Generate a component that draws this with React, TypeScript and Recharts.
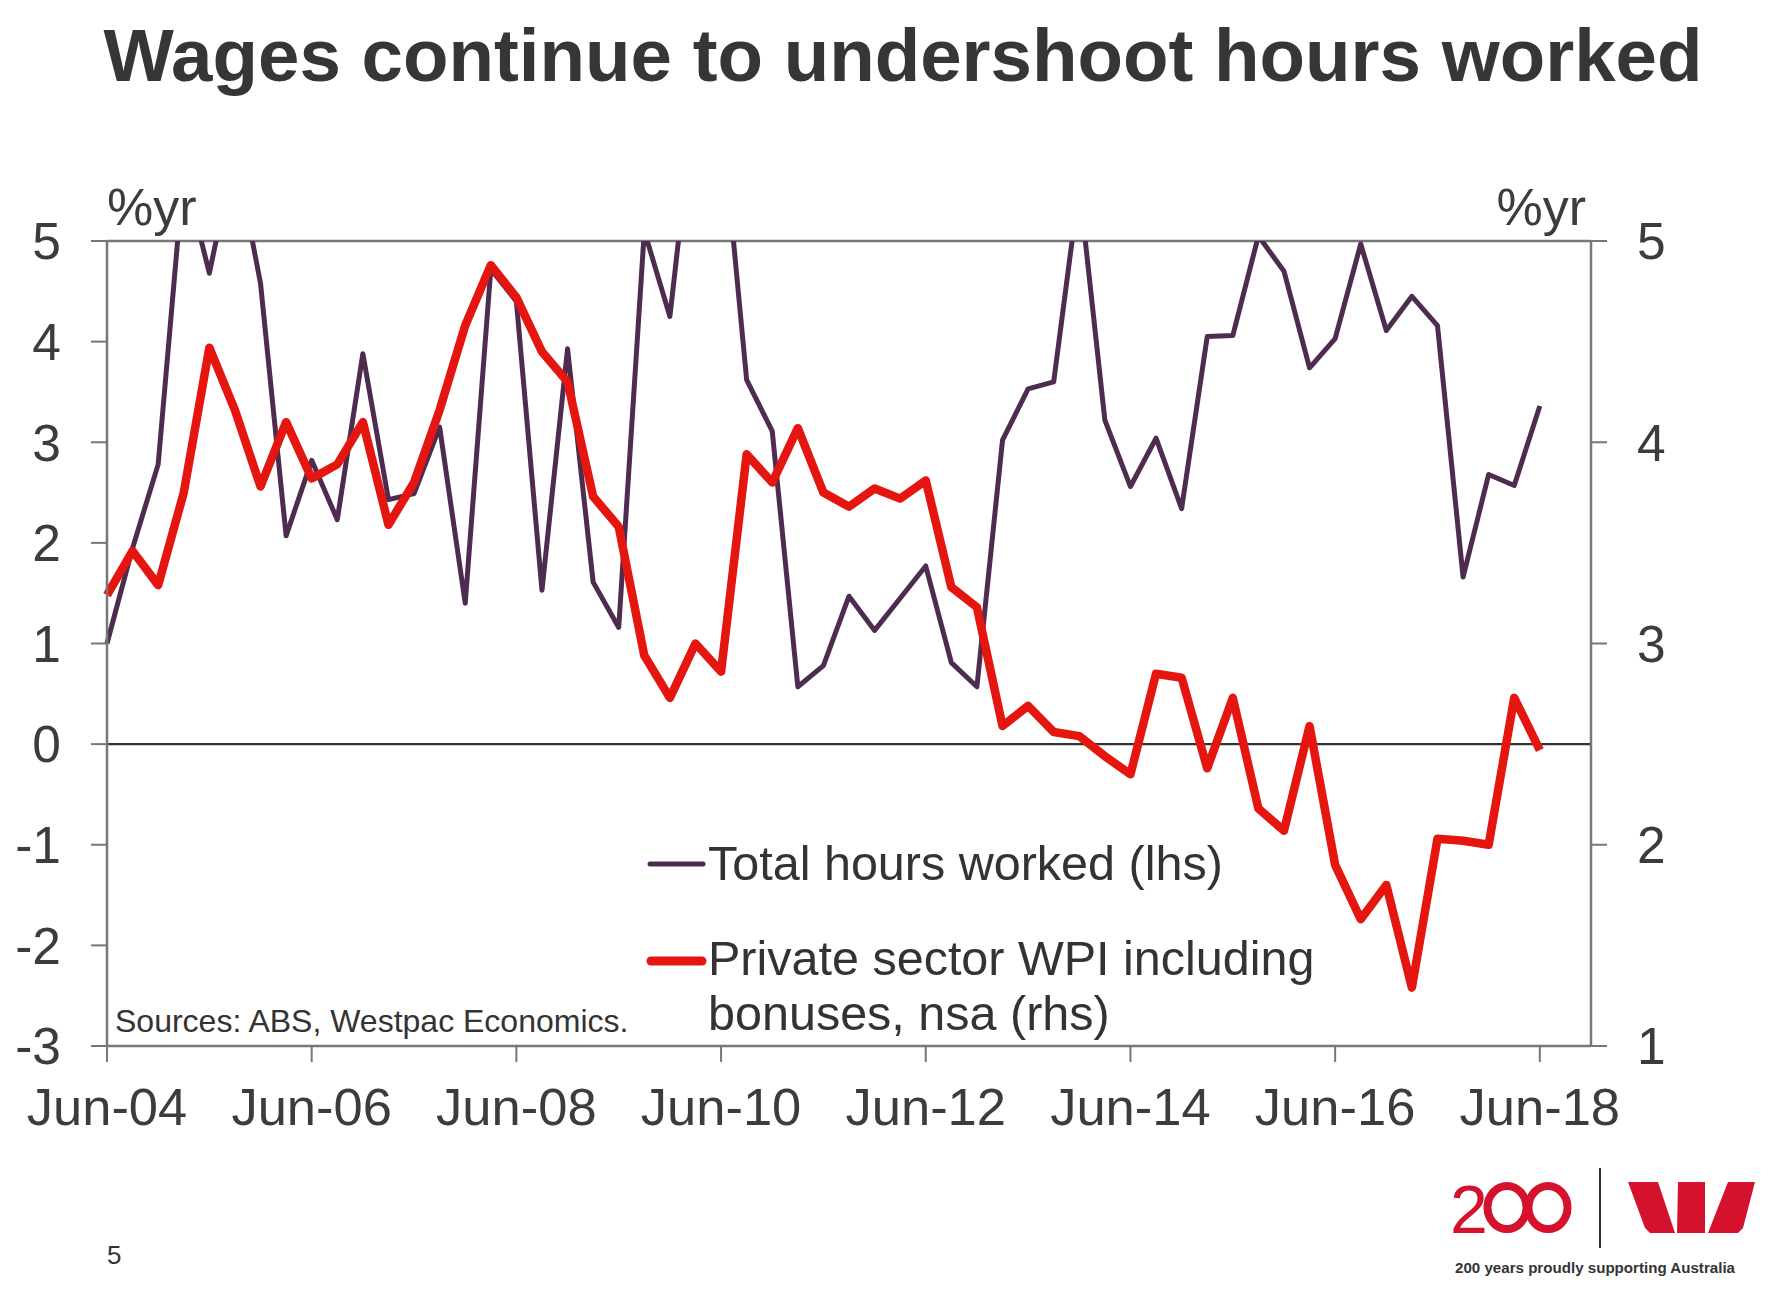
import React from 'react';
import { LineChart, Line, XAxis, YAxis, ReferenceLine } from 'recharts';

const quarters = [
  'Jun-04', 'Sep-04', 'Dec-04',
  'Mar-05', 'Jun-05', 'Sep-05', 'Dec-05',
  'Mar-06', 'Jun-06', 'Sep-06', 'Dec-06',
  'Mar-07', 'Jun-07', 'Sep-07', 'Dec-07',
  'Mar-08', 'Jun-08', 'Sep-08', 'Dec-08',
  'Mar-09', 'Jun-09', 'Sep-09', 'Dec-09',
  'Mar-10', 'Jun-10', 'Sep-10', 'Dec-10',
  'Mar-11', 'Jun-11', 'Sep-11', 'Dec-11',
  'Mar-12', 'Jun-12', 'Sep-12', 'Dec-12',
  'Mar-13', 'Jun-13', 'Sep-13', 'Dec-13',
  'Mar-14', 'Jun-14', 'Sep-14', 'Dec-14',
  'Mar-15', 'Jun-15', 'Sep-15', 'Dec-15',
  'Mar-16', 'Jun-16', 'Sep-16', 'Dec-16',
  'Mar-17', 'Jun-17', 'Sep-17', 'Dec-17',
  'Mar-18', 'Jun-18', 'Sep-18', 'Dec-18',
];

// Total hours worked, %yr (lhs)
const hoursWorked = [
  1.0, 1.95, 2.78, 5.7, 4.68, 5.9, 4.58, 2.07, 2.82, 2.23,
  3.88, 2.43, 2.49, 3.15, 1.4, 4.72, 4.4, 1.53, 3.93, 1.61,
  1.16, 5.1, 4.25, 6.5, 6.3, 3.62, 3.11, 0.57, 0.78, 1.47,
  1.13, 1.45, 1.77, 0.81, 0.57, 3.02, 3.53, 3.6, 5.55, 3.22,
  2.56, 3.04, 2.34, 4.05, 4.06, 5.05, 4.7, 3.74, 4.03, 4.97,
  4.11, 4.45, 4.16, 1.66, 2.68, 2.57, 3.36,
];

// Private sector WPI including bonuses, nsa, %yr (rhs)
const privateWpi = [
  3.24, 3.46, 3.29, 3.75, 4.47, 4.16, 3.78, 4.1, 3.82, 3.89,
  4.1, 3.59, 3.8, 4.16, 4.58, 4.88, 4.72, 4.45, 4.3, 3.73,
  3.58, 2.94, 2.73, 3.0, 2.86, 3.94, 3.8, 4.07, 3.75, 3.68,
  3.77, 3.72, 3.81, 3.28, 3.18, 2.59, 2.69, 2.56, 2.54, 2.44,
  2.35, 2.85, 2.83, 2.38, 2.73, 2.18, 2.07, 2.59, 1.9, 1.63,
  1.8, 1.29, 2.03, 2.02, 2.0, 2.73, 2.47,
];

const xTicks = ['Jun-04', 'Jun-06', 'Jun-08', 'Jun-10', 'Jun-12', 'Jun-14', 'Jun-16', 'Jun-18'];
const lhsTicks = [-3, -2, -1, 0, 1, 2, 3, 4, 5];
const rhsTicks = [1, 2, 3, 4, 5];

const TITLE = 'Wages continue to undershoot hours worked';
const SERIES_HOURS = 'Total hours worked (lhs)';
const SERIES_WPI_1 = 'Private sector WPI including';
const SERIES_WPI_2 = 'bonuses, nsa (rhs)';
const SOURCE = 'Sources: ABS, Westpac Economics.';

const data = quarters.map((q, i) => ({
  q,
  hours: hoursWorked[i] ?? null,
  wpi: privateWpi[i] ?? null,
}));

const PURPLE = '#4d2c50';
const RED = '#e5150f';
const AXIS = '#777777';
const TEXT = '#3c3c3c';
const FONT = '"Liberation Sans", Arial, sans-serif';
const RED_LOGO = '#d4122e';

export default function App() {
  return (
    <div
      style={{
        position: 'absolute',
        left: 0,
        top: 0,
        width: 1768,
        height: 1289,
        background: '#ffffff',
        fontFamily: FONT,
      }}
    >
      <LineChart
        width={1768}
        height={1289}
        data={data}
        margin={{ top: 241, right: 117, bottom: 183, left: 47 }}
        style={{ fontFamily: FONT }}
      >
        <XAxis
          dataKey="q"
          ticks={xTicks}
          interval={0}
          tickSize={16}
          tickMargin={26}
          axisLine={{ stroke: AXIS, strokeWidth: 2.5 }}
          tickLine={{ stroke: AXIS, strokeWidth: 2 }}
          tick={{ fill: TEXT, fontSize: 52.5 }}
          height={60}
        />
        <YAxis
          yAxisId="lhs"
          orientation="left"
          domain={[-3, 5]}
          ticks={lhsTicks}
          allowDataOverflow
          width={60}
          tickSize={16}
          tickMargin={30}
          axisLine={{ stroke: AXIS, strokeWidth: 2.5 }}
          tickLine={{ stroke: AXIS, strokeWidth: 2 }}
          tick={{ fill: TEXT, fontSize: 51.5 }}
        />
        <YAxis
          yAxisId="rhs"
          orientation="right"
          domain={[1, 5]}
          ticks={rhsTicks}
          allowDataOverflow
          width={60}
          tickSize={16}
          tickMargin={30}
          axisLine={{ stroke: AXIS, strokeWidth: 2.5 }}
          tickLine={{ stroke: AXIS, strokeWidth: 2 }}
          tick={{ fill: TEXT, fontSize: 51.5, textAnchor: 'start' }}
        />
        <ReferenceLine yAxisId="lhs" y={5} stroke={AXIS} strokeWidth={2.5} />
        <ReferenceLine yAxisId="lhs" y={0} stroke="#333333" strokeWidth={2.2} />
        <Line
          yAxisId="lhs"
          type="linear"
          dataKey="hours"
          stroke={PURPLE}
          strokeWidth={5}
          strokeLinejoin="round"
          dot={false}
          activeDot={false}
          isAnimationActive={false}
          connectNulls={false}
        />
        <Line
          yAxisId="rhs"
          type="linear"
          dataKey="wpi"
          stroke={RED}
          strokeWidth={8.5}
          strokeLinejoin="round"
          dot={false}
          activeDot={false}
          isAnimationActive={false}
          connectNulls={false}
        />
      </LineChart>

      <svg
        width={1768}
        height={1289}
        style={{ position: 'absolute', left: 0, top: 0, pointerEvents: 'none' }}
        fontFamily={FONT}
      >
        <text x={903} y={81} textAnchor="middle" fontSize={74.5} fontWeight="bold" fill="#363636">
          {TITLE}
        </text>
        <text x={107} y={225} fontSize={52} fill={TEXT}>%yr</text>
        <text x={1586} y={225} fontSize={52} fill={TEXT} textAnchor="end">%yr</text>

        <text x={115} y={1032} fontSize={32} fill="#333333">{SOURCE}</text>

        <line x1={650} y1={864} x2={703} y2={864} stroke={PURPLE} strokeWidth={5} strokeLinecap="round" />
        <text x={708} y={880} fontSize={48.5} fill="#333333">{SERIES_HOURS}</text>
        <line x1={651} y1={961} x2={702} y2={961} stroke={RED} strokeWidth={9} strokeLinecap="round" />
        <text x={708} y={975} fontSize={48.5} fill="#333333">{SERIES_WPI_1}</text>
        <text x={708} y={1030} fontSize={48.5} fill="#333333">{SERIES_WPI_2}</text>

        <text x={107} y={1264} fontSize={26} fill="#333333">5</text>

        <g>
          <text x={1450} y={1233} fontSize={68} fill={RED_LOGO}>2</text>
          <ellipse cx={1507} cy={1207.5} rx={19.5} ry={21.5} fill="none" stroke={RED_LOGO} strokeWidth={8} />
          <ellipse cx={1548} cy={1207.5} rx={19.5} ry={21.5} fill="none" stroke={RED_LOGO} strokeWidth={8} />
          <line x1={1600} y1={1168} x2={1600} y2={1248} stroke="#333333" strokeWidth={2} />
          <polygon points="1628,1182 1658,1182 1675,1233 1650,1233 1645,1228" fill={RED_LOGO} />
          <polygon points="1678,1182 1705,1182 1705,1233 1677,1233" fill={RED_LOGO} />
          <polygon points="1728,1182 1755,1182 1743,1228 1738,1233 1708,1233" fill={RED_LOGO} />
          <text x={1455} y={1273} fontSize={14.5} fontWeight="bold" fill="#333333" textLength={280} lengthAdjust="spacingAndGlyphs">
            200 years proudly supporting Australia
          </text>
        </g>
      </svg>
    </div>
  );
}
